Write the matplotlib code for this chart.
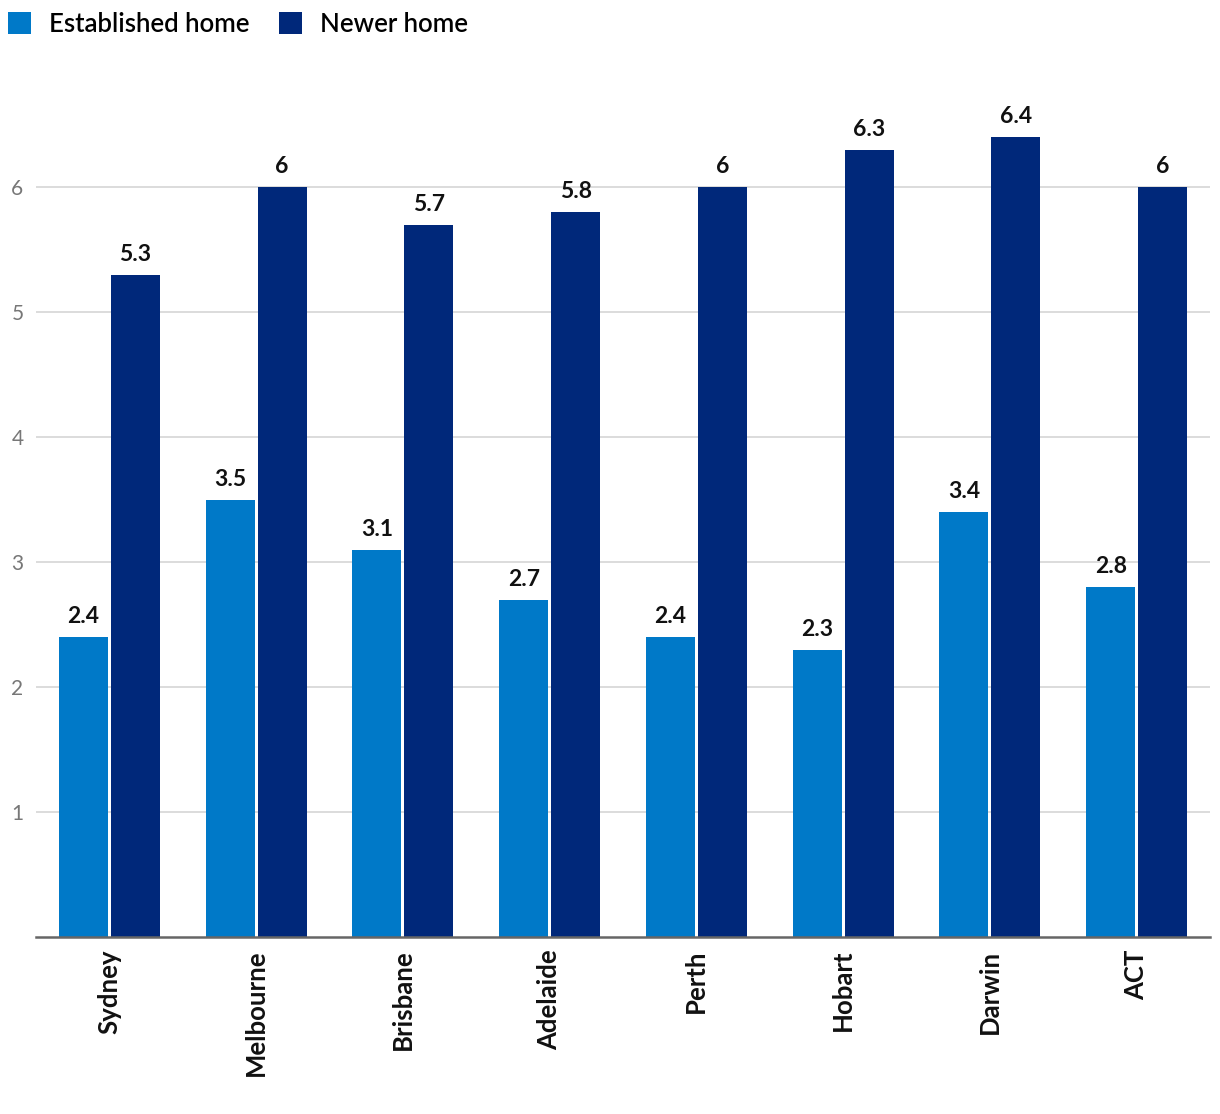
import matplotlib
matplotlib.use("Agg")
import matplotlib.pyplot as plt
from matplotlib.patches import Patch
import numpy as np

cities = ["Sydney", "Melbourne", "Brisbane", "Adelaide", "Perth", "Hobart", "Darwin", "ACT"]
established = [2.4, 3.5, 3.1, 2.7, 2.4, 2.3, 3.4, 2.8]
newer = [5.3, 6.0, 5.7, 5.8, 6.0, 6.3, 6.4, 6.0]
series_names = ["Established home", "Newer home"]
yticks = [1, 2, 3, 4, 5, 6]

c_est = "#0079c8"
c_new = "#00287a"

plt.rcParams['font.family'] = ['Lato', 'DejaVu Sans']

W, H = 1220, 1114
fig = plt.figure(figsize=(W / 100, H / 100), dpi=100)
ax = fig.add_axes([36 / W, (H - 937) / H, (1210 - 36) / W, (937 - 75) / H])

x = np.arange(len(cities))
w = 0.334
g = 0.02
off = w / 2 + g / 2
b1 = ax.bar(x - off, established, width=w, color=c_est, zorder=3)
b2 = ax.bar(x + off, newer, width=w, color=c_new, zorder=3)

def fmt(v):
    return f"{v:g}"

for bars, vals in ((b1, established), (b2, newer)):
    for rect, v in zip(bars, vals):
        ax.annotate(fmt(v), (rect.get_x() + rect.get_width() / 2, v),
                    xytext=(0, 10), textcoords="offset pixels",
                    ha="center", va="bottom", fontsize=16.5, fontweight="bold",
                    color="#111111")

ax.set_xlim(-0.5, len(cities) - 0.5)
ax.set_ylim(0, 6.9)
ax.set_yticks(yticks)
ax.set_yticklabels([str(t) for t in yticks], fontsize=15, color="#777777")
ax.set_xticks(x)
ax.set_xticklabels(cities, rotation=90, fontsize=18.5, fontweight="bold", color="#111111")
ax.tick_params(axis="both", length=0)
ax.tick_params(axis="y", pad=9)
ax.tick_params(axis="x", pad=9)
ax.grid(axis="y", color="#d9d9d9", linewidth=1.3, zorder=0)
for s in ["top", "right", "left"]:
    ax.spines[s].set_visible(False)
ax.spines["bottom"].set_color("#666666")
ax.spines["bottom"].set_linewidth(1.8)
ax.spines["bottom"].set_zorder(4)

handles = [Patch(facecolor=c_est), Patch(facecolor=c_new)]
fig.legend(handles, series_names, loc="upper left", bbox_to_anchor=(0.0, 1.0 - 4 / H),
           ncol=2, frameon=False, handlelength=0.9, handleheight=0.9,
           handletextpad=0.7, columnspacing=1.15, borderaxespad=0.0, borderpad=0.3,
           prop={'weight': 'semibold', 'size': 18.5})

fig.savefig("out.png", dpi=100)
